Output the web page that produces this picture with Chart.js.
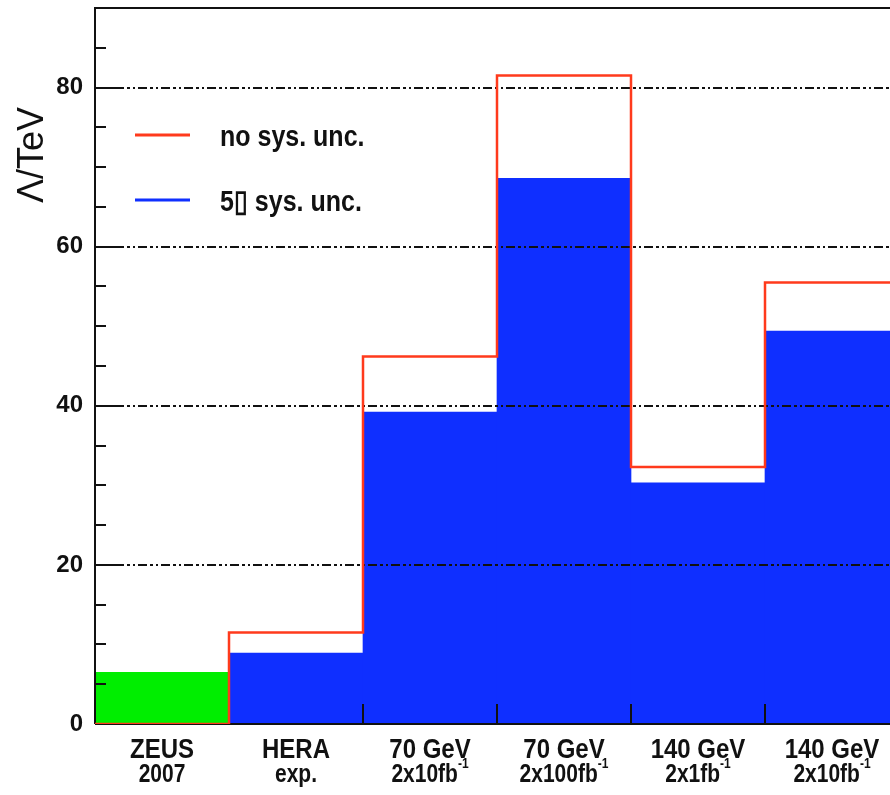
<!DOCTYPE html>
<html>
<head>
<meta charset="utf-8">
<script src="https://cdn.jsdelivr.net/npm/chart.js@4"></script>
<style>
  html, body { margin: 0; padding: 0; background: #fff; overflow: hidden; }
  #wrap { width: 900px; height: 795px; }
</style>
</head>
<body>
<div id="wrap"><canvas id="chart" width="900" height="795"></canvas></div>
<script>
// Lambda reach (TeV) per scenario, histogram style
const categories   = ['ZEUS', 'HERA', '70 GeV', '70 GeV', '140 GeV', '140 GeV'];
const subLabels    = ['2007', 'exp.', '2x10fb', '2x100fb', '2x1fb', '2x10fb'];
const subExponents = ['', '', '-1', '-1', '-1', '-1'];

const zeusValues   = [6.5, null, null, null, null, null];
const sysUncValues = [null, 8.9, 39.2, 68.6, 30.3, 49.4];   // 5% sys. unc.
const noSysValues  = [0, 11.5, 46.2, 81.5, 32.3, 55.5];     // no sys. unc.

const seriesLabels = ['no sys. unc.', '5\u25AF sys. unc.'];
const yTitle = '\u039B/TeV';

const FONT = "'Liberation Sans', Arial, sans-serif";
const RED = '#ff3a1c', BLUE = '#0f2fff', GREEN = '#00ee00', INK = '#111';

// step outline points at bin edges (last bin closed on the right edge)
const stepPoints = noSysValues.map(function (v, i) { return { x: i, y: v }; });
stepPoints.push({ x: noSysValues.length, y: noSysValues[noSysValues.length - 1] });

function tallText(ctx, text, x, y, font, sy, align) {
    ctx.save();
    ctx.font = font;
    ctx.textAlign = align || 'left';
    ctx.textBaseline = 'alphabetic';
    ctx.translate(x, y);
    ctx.scale(1, sy);
    ctx.fillText(text, 0, 0);
    ctx.restore();
}

// grid, ticks and frame go above the bars but below the red outline
const framePlugin = {
    id: 'frame',
    beforeDatasetDraw: function (chart, args) {
        if (args.meta.type !== 'line') return;
        const ctx = chart.ctx, a = chart.chartArea;
        const y = chart.scales.y, xe = chart.scales.xe;
        ctx.save();
        ctx.strokeStyle = INK;
        ctx.lineWidth = 2;

        ctx.setLineDash([9, 3, 3, 3, 2, 3]);
        y.ticks.forEach(function (t) {
            if (t.value === 0) return;
            const py = Math.round(y.getPixelForValue(t.value));
            ctx.beginPath(); ctx.moveTo(a.left + 20, py); ctx.lineTo(a.right, py); ctx.stroke();
        });
        ctx.setLineDash([]);

        for (let v = 0; v <= y.max; v += 5) {
            const py = Math.round(y.getPixelForValue(v));
            const len = (v % 20 === 0) ? 21 : 11;
            ctx.beginPath(); ctx.moveTo(a.left, py); ctx.lineTo(a.left + len, py); ctx.stroke();
        }
        for (let i = 1; i < categories.length; i++) {
            const px = Math.round(xe.getPixelForValue(i));
            ctx.beginPath(); ctx.moveTo(px, a.bottom); ctx.lineTo(px, a.bottom - 20); ctx.stroke();
        }

        ctx.beginPath();
        ctx.moveTo(a.left, a.bottom); ctx.lineTo(a.left, a.top);
        ctx.lineTo(a.right, a.top); ctx.lineTo(a.right, a.bottom);
        ctx.lineTo(a.left, a.bottom);
        ctx.stroke();
        ctx.restore();
    },
    afterDraw: function (chart) {
        const ctx = chart.ctx, a = chart.chartArea, x = chart.scales.x;
        ctx.save();
        ctx.fillStyle = INK;

        // two-line category labels
        categories.forEach(function (c, i) {
            const cx = x.getPixelForValue(i);
            tallText(ctx, c, cx, a.bottom + 34, 'bold 24px ' + FONT, 1.15, 'center');
            const mainFont = 'bold 21px ' + FONT, supFont = 'bold 12px ' + FONT;
            ctx.font = mainFont;
            const w1 = ctx.measureText(subLabels[i]).width;
            ctx.font = supFont;
            const w2 = subExponents[i] ? ctx.measureText(subExponents[i]).width : 0;
            const x0 = cx - (w1 + w2) / 2;
            tallText(ctx, subLabels[i], x0, a.bottom + 58, mainFont, 1.25, 'left');
            if (w2) tallText(ctx, subExponents[i], x0 + w1, a.bottom + 44, supFont, 1.2, 'left');
        });

        // legend
        const legendColors = [RED, BLUE];
        seriesLabels.forEach(function (lbl, i) {
            const ly = a.top + 127 + i * 65;
            ctx.strokeStyle = legendColors[i];
            ctx.lineWidth = 3;
            ctx.beginPath(); ctx.moveTo(135, ly); ctx.lineTo(190, ly); ctx.stroke();
            tallText(ctx, lbl, 220, ly + 11, 'bold 25px ' + FONT, 1.2, 'left');
        });

        // y-axis title near the top
        ctx.save();
        ctx.translate(43, a.top + 147);
        ctx.rotate(-Math.PI / 2);
        ctx.font = '36px ' + FONT;
        ctx.textAlign = 'center';
        ctx.textBaseline = 'alphabetic';
        ctx.fillText(yTitle, 0, 0);
        ctx.restore();

        ctx.restore();
    }
};

new Chart(document.getElementById('chart').getContext('2d'), {
    data: {
        labels: categories,
        datasets: [
            {
                type: 'line', label: seriesLabels[0], xAxisID: 'xe',
                data: stepPoints, stepped: 'before',
                borderColor: RED, borderWidth: 2.5, pointRadius: 0,
                fill: false, order: 0
            },
            {
                type: 'bar', label: seriesLabels[1], xAxisID: 'x',
                data: sysUncValues, backgroundColor: BLUE, borderWidth: 0,
                barPercentage: 1, categoryPercentage: 1, grouped: false, order: 1
            },
            {
                type: 'bar', label: 'ZEUS 2007', xAxisID: 'x',
                data: zeusValues, backgroundColor: GREEN, borderWidth: 0,
                barPercentage: 1, categoryPercentage: 1, grouped: false, order: 1
            }
        ]
    },
    options: {
        responsive: false,
        animation: false,
        layout: { padding: { left: 0, top: 8, right: 1, bottom: 71 } },
        scales: {
            x: { type: 'category', display: false, offset: true },
            xe: { type: 'linear', display: false, min: 0, max: categories.length, offset: false },
            y: {
                min: 0, max: 90,
                ticks: {
                    stepSize: 20, includeBounds: false, padding: 12, color: INK,
                    font: { family: FONT, size: 24, weight: 'bold' }
                },
                grid: { display: false, drawTicks: false },
                border: { display: false },
                afterFit: function (s) { s.width = 95; s.paddingTop = 0; s.paddingBottom = 0; }
            }
        },
        plugins: { legend: { display: false }, tooltip: { enabled: false } }
    },
    plugins: [framePlugin]
});
</script>
</body>
</html>
